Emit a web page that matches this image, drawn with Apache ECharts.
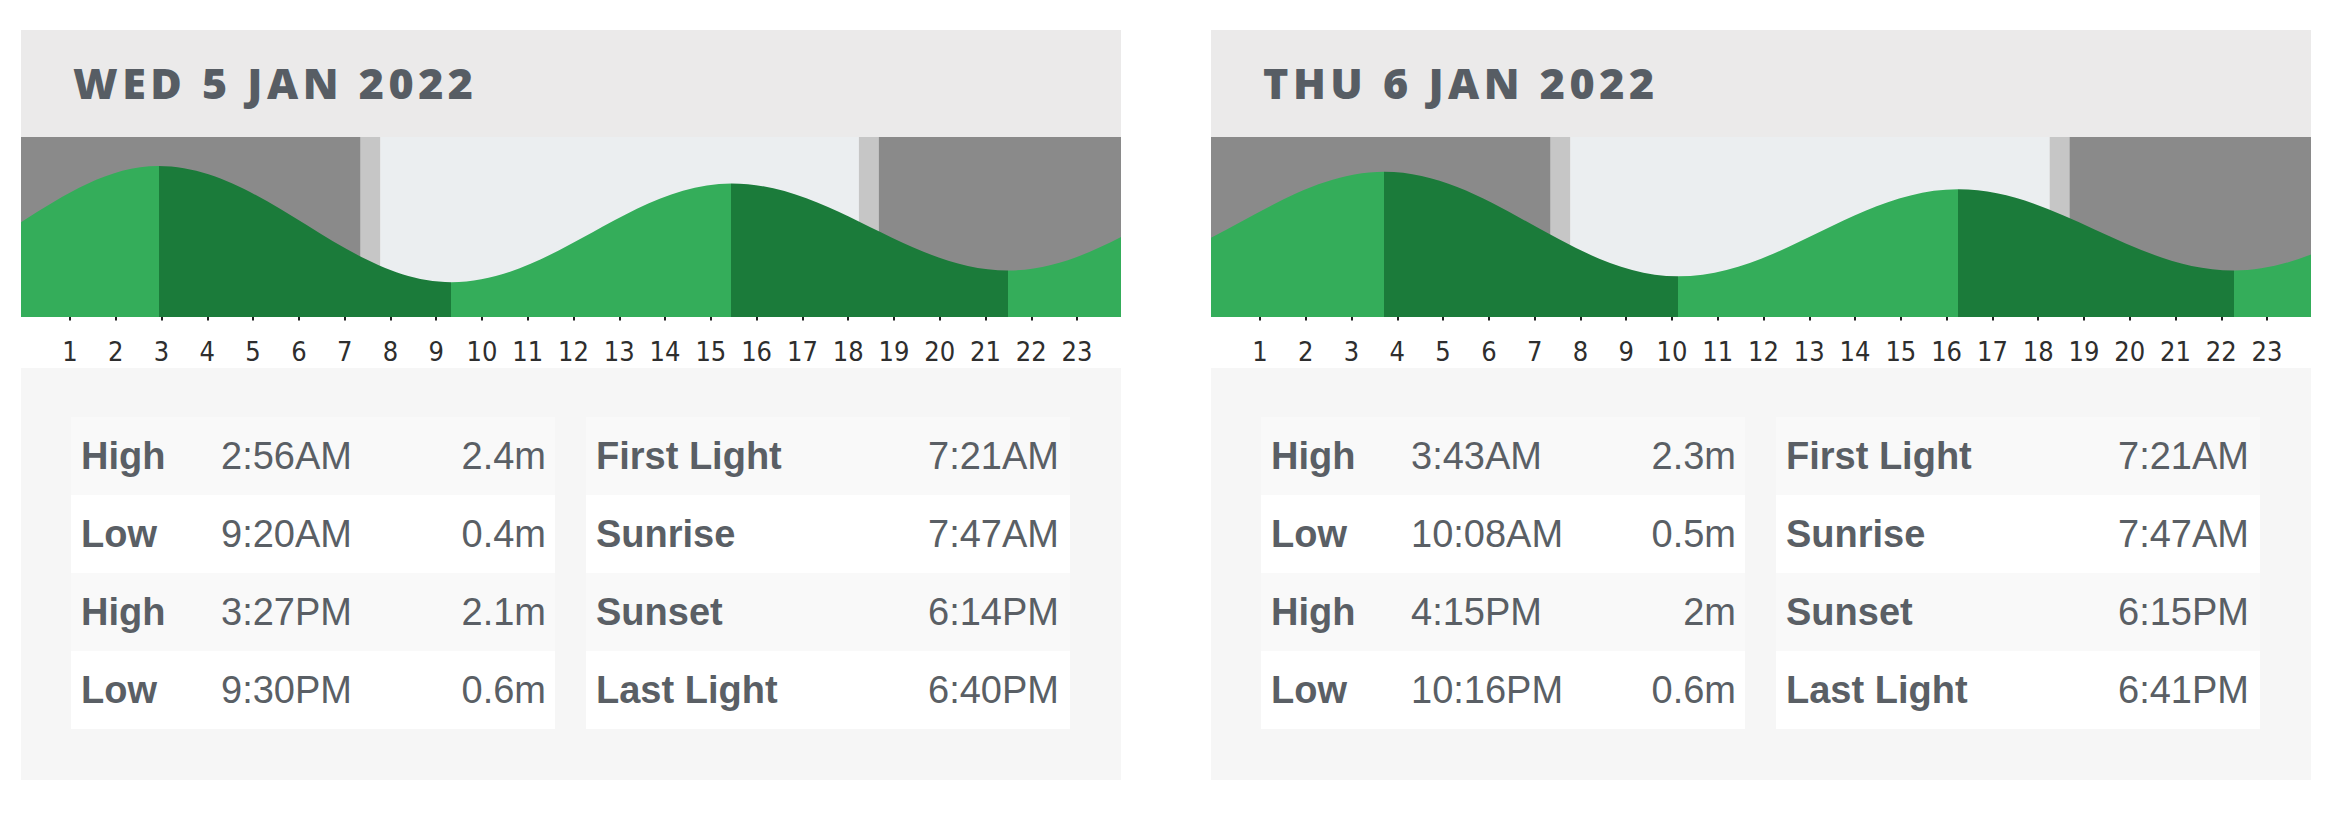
<!DOCTYPE html>
<html>
<head>
<meta charset="utf-8">
<script src="https://cdn.jsdelivr.net/npm/echarts@6/dist/echarts.min.js"></script>
<style>
  html, body { margin: 0; padding: 0; background: #fff; }
  body { width: 2352px; height: 825px; position: relative; overflow: hidden;
         font-family: 'Liberation Sans', Arial, sans-serif; color: #5a5f65; }
  .card { position: absolute; top: 30px; width: 1100px; height: 750px; }
  .head { position: absolute; left: 0; top: 0; width: 1100px; height: 107px; background: #ebeaea; }
  .head span { position: absolute; left: 52px; top: 31px; font: 800 43px/43px 'Open Sans', Lato, sans-serif;
               letter-spacing: 4.5px; color: #575d64; white-space: nowrap; }
  .tide { position: absolute; left: 0; top: 107px; width: 1100px; height: 231px; background: #fff; }
  .panel { position: absolute; left: 0; top: 338px; width: 1100px; height: 412px; background: #f6f6f6; }
  .tbl { position: absolute; top: 49px; width: 484px; }
  .row { position: relative; height: 78px; line-height: 78px; font-size: 38px; white-space: nowrap; }
  .row:nth-child(odd) { background: #f9f9f9; }
  .row:nth-child(even) { background: #fff; }
  .row b { position: absolute; left: 10px; }
  .row .t { position: absolute; left: 150px; }
  .row .r { position: absolute; right: 9px; }
  .sun .row .r { right: 11px; }
</style>
</head>
<body>
<script>
// one entry per day
const dayTitles = ['WED 5 JAN 2022', 'THU 6 JAN 2022'];
const tideTypes = [['High', 'Low', 'High', 'Low'], ['High', 'Low', 'High', 'Low']];
const tideTimes = [['2:56AM', '9:20AM', '3:27PM', '9:30PM'], ['3:43AM', '10:08AM', '4:15PM', '10:16PM']];
const tideHeights = [[2.4, 0.4, 2.1, 0.6], [2.3, 0.5, 2, 0.6]];
const sunNames = ['First Light', 'Sunrise', 'Sunset', 'Last Light'];
const sunTimes = [['7:21AM', '7:47AM', '6:14PM', '6:40PM'], ['7:21AM', '7:47AM', '6:15PM', '6:41PM']];
// tides just outside the two days (estimated from where the curve leaves the chart)
const prevTypes = ['High', 'Low'], prevTimes = ['2:15PM', '9:00PM'], prevHeights = [2.1, 0.5];   // 4 Jan
const nextTypes = ['High', 'Low'], nextTimes = ['4:30AM', '10:55AM'], nextHeights = [2.2, 0.5];  // 7 Jan
const hourTicks = [1, 2, 3, 4, 5, 6, 7, 8, 9, 10, 11, 12, 13, 14, 15, 16, 17, 18, 19, 20, 21, 22, 23];

const cardLeft = [21, 1211];
const colRise = '#34ad5a', colFall = '#1b7b3a';
const colNight = '#8a8a8a', colTwilight = '#c6c6c6', colDay = '#ebeef0';

function hoursOf(s) {
    const m = s.match(/(\d+):(\d+)(AM|PM)/);
    let h = (+m[1]) % 12;
    if (m[3] === 'PM') h += 12;
    return h + (+m[2]) / 60;
}

// all tide turning points on one running clock (hours from 5 Jan 00:00)
const allTides = [];
prevTimes.forEach((s, i) => allTides.push({ t: hoursOf(s) - 24, h: prevHeights[i], type: prevTypes[i] }));
tideTimes.forEach((day, d) => day.forEach((s, i) => {
    allTides.push({ t: d * 24 + hoursOf(s), h: tideHeights[d][i], type: tideTypes[d][i] });
}));
nextTimes.forEach((s, i) => allTides.push({ t: 48 + hoursOf(s), h: nextHeights[i], type: nextTypes[i] }));

function buildCard(d) {
    const card = document.createElement('div');
    card.className = 'card';
    card.style.left = cardLeft[d] + 'px';
    card.innerHTML =
        '<div class="head"><span>' + dayTitles[d] + '</span></div>' +
        '<div class="tide"></div>' +
        '<div class="panel"><div class="tbl tides" style="left:50px"></div>' +
        '<div class="tbl sun" style="left:565px"></div></div>';
    document.body.appendChild(card);

    const tides = card.querySelector('.tides');
    tideTypes[d].forEach((type, i) => {
        const row = document.createElement('div');
        row.className = 'row';
        row.innerHTML = '<b>' + type + '</b><span class="t">' + tideTimes[d][i] +
            '</span><span class="r">' + tideHeights[d][i] + 'm</span>';
        tides.appendChild(row);
    });
    const sun = card.querySelector('.sun');
    sunNames.forEach((name, i) => {
        const row = document.createElement('div');
        row.className = 'row';
        row.innerHTML = '<b>' + name + '</b><span class="r">' + sunTimes[d][i] + '</span>';
        sun.appendChild(row);
    });

    const pts = allTides.map(p => [p.t - d * 24, p.h]);
    // rising water (towards a High) light green, falling water dark green
    const pieces = [{ lt: pts[0][0], color: allTides[0].type === 'High' ? colRise : colFall }];
    for (let i = 0; i < pts.length - 1; i++) {
        pieces.push({
            gte: pts[i][0], lt: pts[i + 1][0],
            color: allTides[i + 1].type === 'High' ? colRise : colFall
        });
    }
    pieces.push({ gte: pts[pts.length - 1][0], color: colRise });

    const xMin = -0.07, xMax = 23.96;
    const sunH = sunTimes[d].map(hoursOf);
    const bands = [
        [xMin, sunH[0], colNight], [sunH[0], sunH[1], colTwilight], [sunH[1], sunH[2], colDay],
        [sunH[2], sunH[3], colTwilight], [sunH[3], xMax, colNight]
    ];

    const chart = echarts.init(card.querySelector('.tide'), null, { renderer: 'svg' });
    chart.setOption({
        animation: false,
        grid: { left: 0, right: 0, top: 0, height: 180 },
        xAxis: {
            type: 'value', min: xMin, max: xMax,
            axisLine: { show: false },
            splitLine: { show: false },
            axisTick: { show: true, customValues: hourTicks, length: 15, lineStyle: { color: '#1e1e1e', width: 2 } },
            axisLabel: {
                customValues: hourTicks, margin: 20, fontSize: 27, lineHeight: 28, color: '#2e2e2e',
                fontFamily: "'Liberation Sans Narrow', 'DejaVu Sans Condensed', sans-serif",
                formatter: v => String(v)
            }
        },
        yAxis: { type: 'value', min: -0.2, max: 2.9, show: false },
        visualMap: { show: false, type: 'piecewise', dimension: 0, seriesIndex: 0, pieces: pieces },
        series: [{
            type: 'line',
            data: pts,
            smooth: 0.36,
            smoothMonotone: 'x',
            showSymbol: false,
            z: 3,
            lineStyle: { width: 0 },
            areaStyle: { opacity: 1, origin: 'start' },
            markArea: {
                silent: true,
                data: bands.map(b => [{ xAxis: b[0], itemStyle: { color: b[2] } }, { xAxis: b[1] }])
            }
        }]
    });
}

dayTitles.forEach((_, d) => buildCard(d));
</script>
</body>
</html>
